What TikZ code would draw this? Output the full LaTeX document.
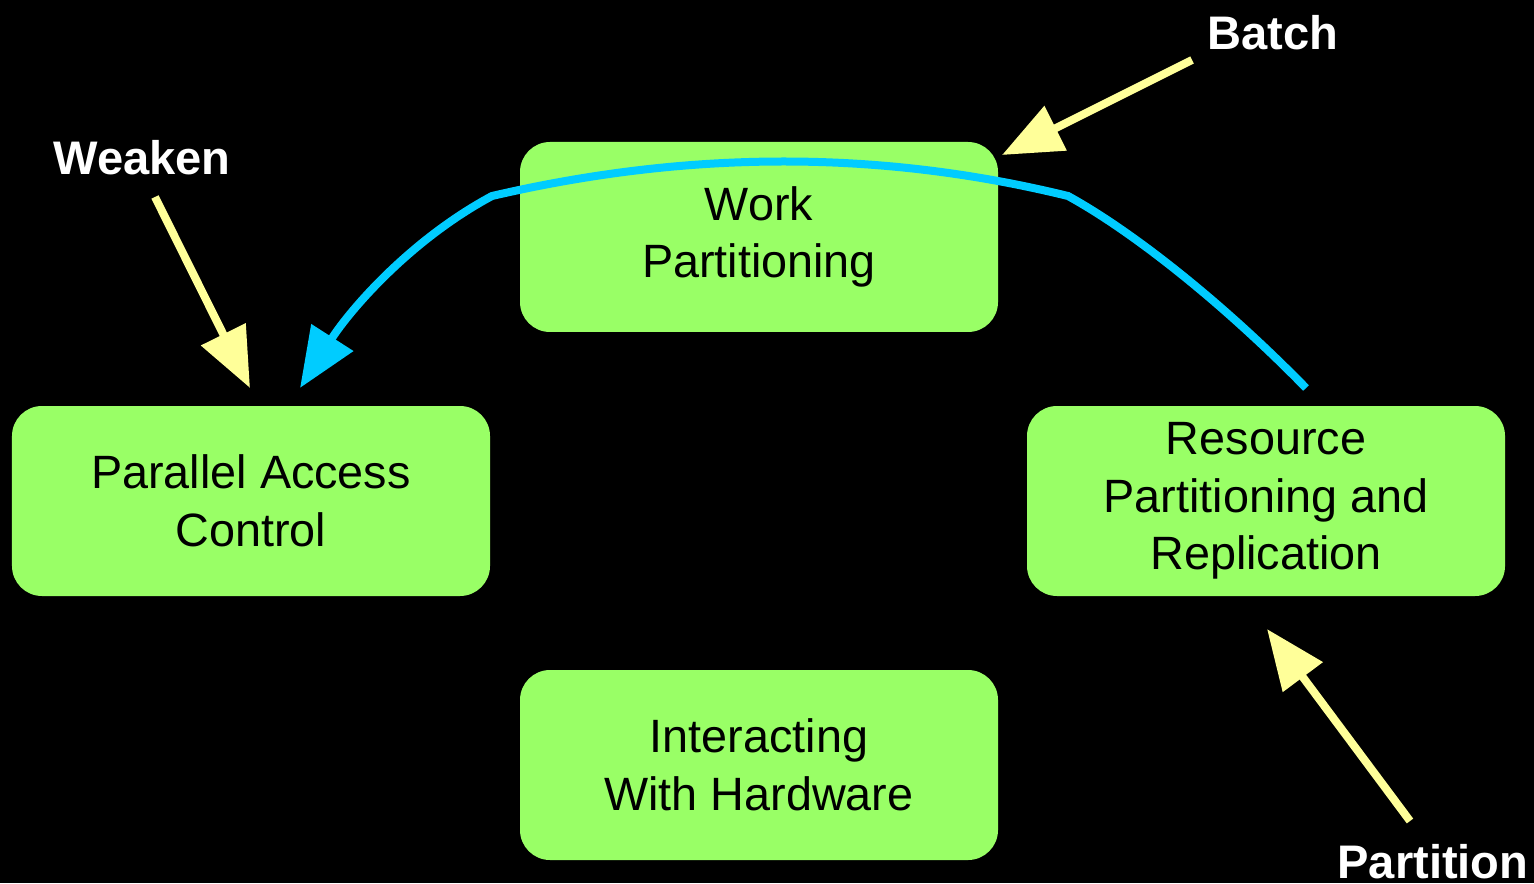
\documentclass[tikz,border=0pt]{standalone}
\usepackage{fontspec}
\setmainfont{Liberation Sans}
\usetikzlibrary{arrows.meta}

\definecolor{boxgreen}{HTML}{99FF66}
\definecolor{hintyellow}{HTML}{FFFF99}
\definecolor{flowblue}{HTML}{00CCFF}

\tikzset{
  area/.style={fill=boxgreen, rounded corners=0.3cm, minimum width=4.78cm,
    minimum height=1.9cm, align=center, inner sep=0pt,
    font=\fontsize{13.3}{16.4}\selectfont},
  hint/.style={text=white, font=\fontsize{13.4}{16}\selectfont\bfseries},
  hintarrow/.style={draw=hintyellow, line width=0.08cm,
    -{Triangle[length=0.6cm, width=0.48cm, fill=hintyellow]}},
  flow/.style={draw=flowblue, line width=0.08cm,
    -{Triangle[length=0.6cm, width=0.48cm, fill=flowblue]}}
}

\begin{document}
\begin{tikzpicture}
	\fill[black] (0,0) rectangle (15.34,8.83);
	\useasboundingbox (0,0) rectangle (15.34,8.83);
	% the four areas
	\node[area] (work) at (7.59,6.46) {Work\\Partitioning};
	\node[area] (access) at (2.51,3.82) {Parallel Access\\Control};
	\node[area] (resource) at (12.66,3.82) {Resource\\Partitioning and\\Replication};
	\node[area] (hardware) at (7.59,1.18) {Interacting\\With Hardware};
	% hints
	\node[hint] (batch) at (12.73,8.5) {Batch};
	\node[hint] (weaken) at (1.42,7.25) {Weaken};
	\node[hint] (partition) at (14.33,0.21) {Partition};
	\coordinate (batchtail) at (11.92,8.23);
	\coordinate (batchtip) at (10.02,7.28);
	\coordinate (weakentail) at (1.55,6.86);
	\coordinate (weakentip) at (2.5,4.95);
	\coordinate (parttail) at (14.1,0.62);
	\coordinate (parttip) at (12.67,2.54);
	\draw[hintarrow] (batchtail) -- (batchtip);
	\draw[hintarrow] (weakentail) -- (weakentip);
	\draw[hintarrow] (parttail) -- (parttip);
	% flow from resource over work to access
	\coordinate (flowstart) at (13.06,4.95);
	\coordinate (kneeR) at (10.68,6.87);
	\coordinate (kneeL) at (4.92,6.87);
	\coordinate (flowend) at (3.0,4.95);
	\draw[flow] (flowstart) .. controls (12.2,5.83) and (11.3,6.53) .. (kneeR)
		.. controls (8.8,7.33) and (6.9,7.33) .. (kneeL)
		.. controls (4.1,6.43) and (3.5,5.73) .. (flowend);
\end{tikzpicture}
\end{document}
